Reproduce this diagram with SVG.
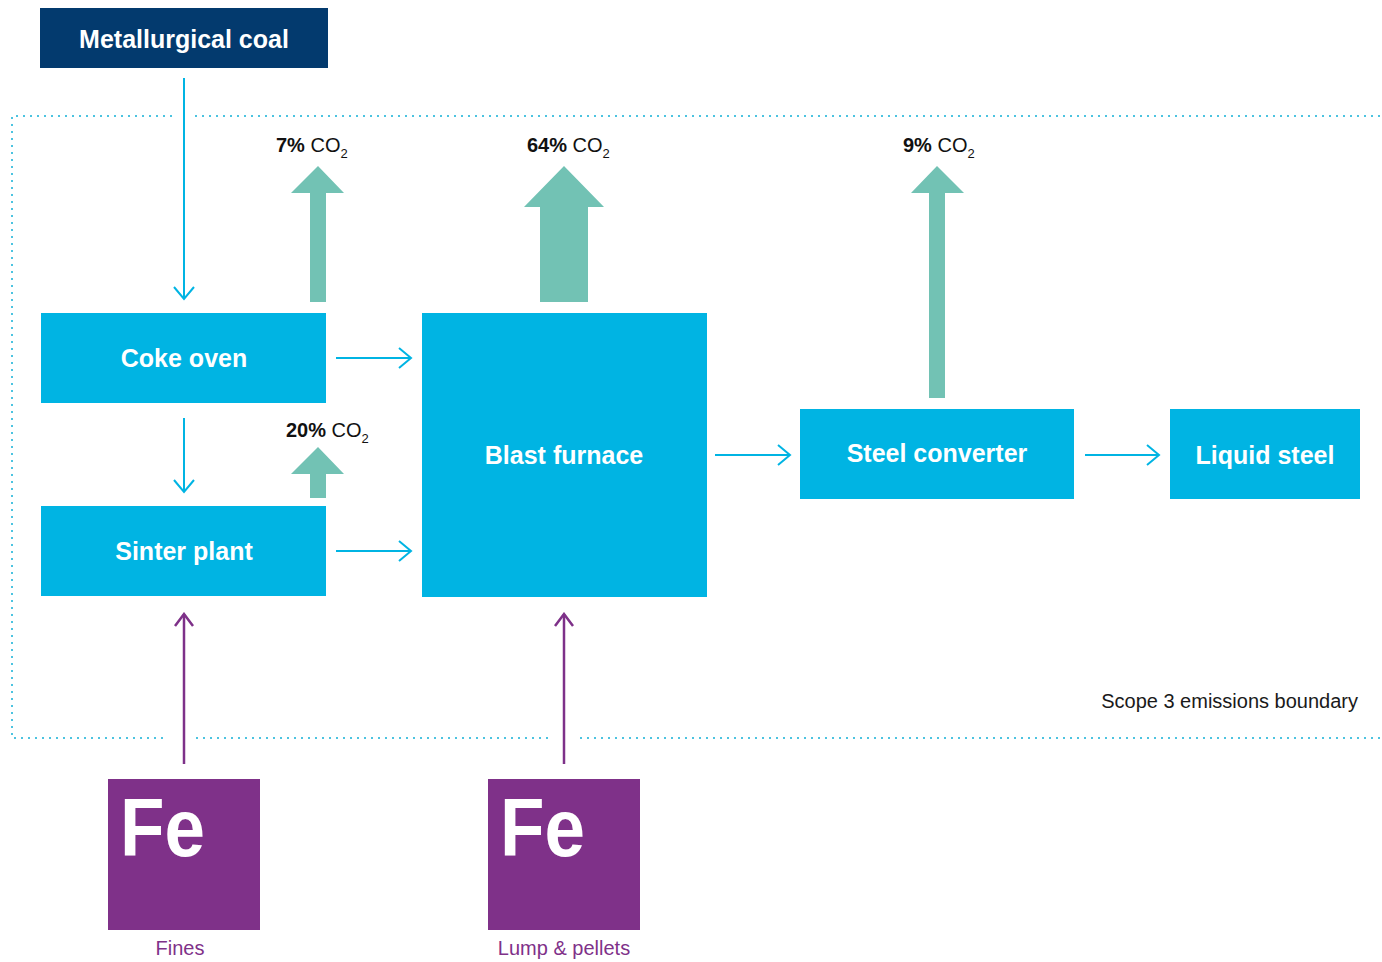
<svg xmlns="http://www.w3.org/2000/svg" width="1382" height="962" viewBox="0 0 1382 962">
<style>
.box{fill:#00b4e3}
.lbl{font-family:"Liberation Sans",Arial,sans-serif;font-weight:bold;font-size:25px;fill:#fff;text-anchor:middle}
.co2{font-family:"Liberation Sans",Arial,sans-serif;font-size:20px;fill:#111}
.co2 .b{font-weight:bold}
.sub{font-size:13px}
.flow{stroke:#00b4e3;stroke-width:2;fill:none;marker-end:url(#ac)}
.fe{stroke:#7e3189;stroke-width:2.5;fill:none;marker-end:url(#ap)}
.bnd{stroke:#4cc3e0;stroke-width:2;fill:none;stroke-dasharray:2 5}
.co2arr{fill:#72c2b4}
.fesq{fill:#7f3189}
.fetxt{font-family:"Liberation Sans",Arial,sans-serif;font-weight:bold;font-size:82px;fill:#fff}
.ptxt{font-family:"Liberation Sans",Arial,sans-serif;font-size:20px;fill:#7f3189;text-anchor:middle}
</style>
<defs>
<marker id="ac" markerUnits="userSpaceOnUse" viewBox="-2 -2 16 24" markerWidth="16" markerHeight="24" refX="12" refY="10" orient="auto">
<path d="M0,0 L12,10 L0,20" fill="none" stroke="#00b4e3" stroke-width="2"/>
</marker>
<marker id="ap" markerUnits="userSpaceOnUse" viewBox="-2 -2 16 24" markerWidth="16" markerHeight="24" refX="12" refY="10" orient="auto">
<path d="M0,1 L12,10 L0,19" fill="none" stroke="#7e3189" stroke-width="2.5"/>
</marker>
</defs>

<g id="boundary">
<path class="bnd" d="M172,116 H12 V738 H168"/>
<path class="bnd" d="M195,116 H1382"/>
<path class="bnd" d="M196,738 H552"/>
<path class="bnd" d="M580,738 H1382"/>
<text x="1358" y="708" font-family="'Liberation Sans',Arial,sans-serif" font-size="20" fill="#1a1a1a" text-anchor="end">Scope 3 emissions boundary</text>
</g>

<g id="connectors">
<path class="flow" d="M184,78 V299"/>
<path class="flow" d="M184,418 V492"/>
<path class="flow" d="M336,358 H411"/>
<path class="flow" d="M336,551 H411"/>
<path class="flow" d="M715,455 H790"/>
<path class="flow" d="M1085,455 H1159"/>
<path class="fe" d="M184,764 V614"/>
<path class="fe" d="M564,764 V614"/>
</g>

<g id="emissions">
<polygon class="co2arr" points="310,302 326,302 326,193 344,193 318,166 291,193 310,193"/>
<polygon class="co2arr" points="540,302 588,302 588,207 604,207 564,166 524,207 540,207"/>
<polygon class="co2arr" points="310,498 326,498 326,474 344,474 318,447 291,474 310,474"/>
<polygon class="co2arr" points="929,398 945,398 945,193 964,193 937,166 911,193 929,193"/>
<text class="co2" x="276" y="152"><tspan class="b">7%</tspan> CO<tspan class="sub" dy="6">2</tspan></text>
<text class="co2" x="527" y="152"><tspan class="b">64%</tspan> CO<tspan class="sub" dy="6">2</tspan></text>
<text class="co2" x="286" y="437"><tspan class="b">20%</tspan> CO<tspan class="sub" dy="6">2</tspan></text>
<text class="co2" x="903" y="152"><tspan class="b">9%</tspan> CO<tspan class="sub" dy="6">2</tspan></text>
</g>

<g id="metallurgical-coal">
<rect x="40" y="8" width="288" height="60" fill="#033a6e"/>
<text class="lbl" x="184" y="48" font-size="26">Metallurgical coal</text>
</g>

<g id="coke-oven">
<rect class="box" x="41" y="313" width="285" height="90"/>
<text class="lbl" x="184" y="367">Coke oven</text>
</g>

<g id="sinter-plant">
<rect class="box" x="41" y="506" width="285" height="90"/>
<text class="lbl" x="184" y="560">Sinter plant</text>
</g>

<g id="blast-furnace">
<rect class="box" x="422" y="313" width="285" height="284"/>
<text class="lbl" x="564" y="464">Blast furnace</text>
</g>

<g id="steel-converter">
<rect class="box" x="800" y="409" width="274" height="90"/>
<text class="lbl" x="937" y="462">Steel converter</text>
</g>

<g id="liquid-steel">
<rect class="box" x="1170" y="409" width="190" height="90"/>
<text class="lbl" x="1265" y="464">Liquid steel</text>
</g>

<g id="fines">
<rect class="fesq" x="108" y="779" width="152" height="151"/>
<text class="fetxt" x="120" y="856" textLength="85" lengthAdjust="spacingAndGlyphs">Fe</text>
<text class="ptxt" x="180" y="955">Fines</text>
</g>

<g id="lump-pellets">
<rect class="fesq" x="488" y="779" width="152" height="151"/>
<text class="fetxt" x="500" y="856" textLength="85" lengthAdjust="spacingAndGlyphs">Fe</text>
<text class="ptxt" x="564" y="955">Lump &amp; pellets</text>
</g>
</svg>
